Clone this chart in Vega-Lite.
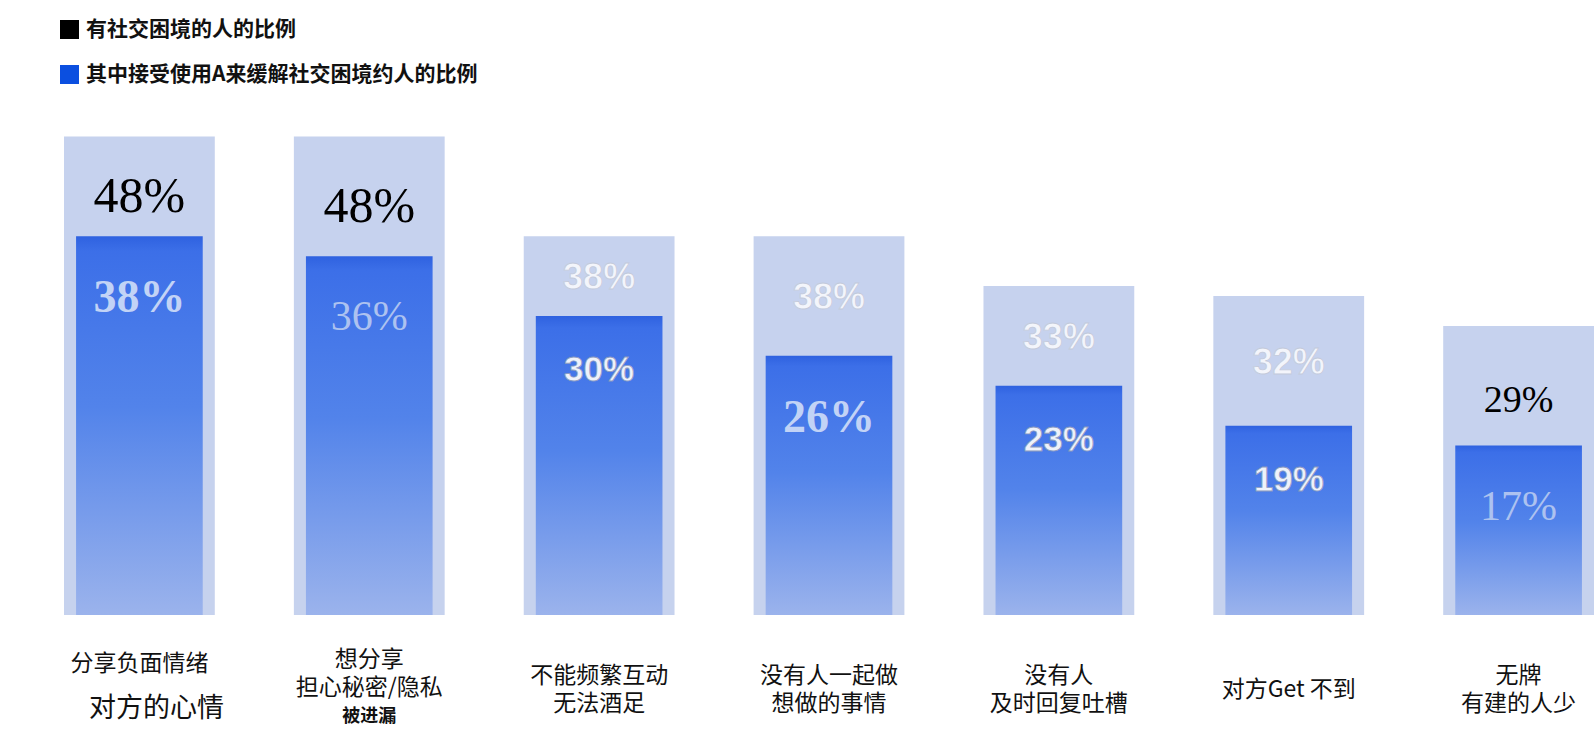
{
  "$schema": "https://vega.github.io/schema/vega-lite/v6.json",
  "autosize": {"type": "none"},
  "padding": {"left": 64, "top": 17, "right": 0, "bottom": 139},
  "width": 1530,
  "height": 598,
  "background": "#ffffff",
  "config": {"view": {"stroke": null}},
  "data": {
    "values": [
      {"cat": "分享负面情绪|对方的心情", "series": "有社交困境的人的比例", "value": 0.48},
      {"cat": "分享负面情绪|对方的心情", "series": "其中接受使用A来缓解社交困境约人的比例", "value": 0.38},
      {"cat": "想分享|担心秘密/隐私|被进漏", "series": "有社交困境的人的比例", "value": 0.48},
      {"cat": "想分享|担心秘密/隐私|被进漏", "series": "其中接受使用A来缓解社交困境约人的比例", "value": 0.36},
      {"cat": "不能频繁互动|无法酒足", "series": "有社交困境的人的比例", "value": 0.38},
      {"cat": "不能频繁互动|无法酒足", "series": "其中接受使用A来缓解社交困境约人的比例", "value": 0.30},
      {"cat": "没有人一起做|想做的事情", "series": "有社交困境的人的比例", "value": 0.38},
      {"cat": "没有人一起做|想做的事情", "series": "其中接受使用A来缓解社交困境约人的比例", "value": 0.26},
      {"cat": "没有人|及时回复吐槽", "series": "有社交困境的人的比例", "value": 0.33},
      {"cat": "没有人|及时回复吐槽", "series": "其中接受使用A来缓解社交困境约人的比例", "value": 0.23},
      {"cat": "对方Get 不到", "series": "有社交困境的人的比例", "value": 0.32},
      {"cat": "对方Get 不到", "series": "其中接受使用A来缓解社交困境约人的比例", "value": 0.19},
      {"cat": "无牌|有建的人少", "series": "有社交困境的人的比例", "value": 0.29},
      {"cat": "无牌|有建的人少", "series": "其中接受使用A来缓解社交困境约人的比例", "value": 0.17}
    ]
  },
  "encoding": {
    "x": {
      "field": "cat",
      "type": "nominal",
      "sort": null,
      "scale": {
        "domain": ["分享负面情绪|对方的心情", "想分享|担心秘密/隐私|被进漏", "不能频繁互动|无法酒足", "没有人一起做|想做的事情", "没有人|及时回复吐槽", "对方Get 不到", "无牌|有建的人少"],
        "paddingInner": 0.344,
        "paddingOuter": 0
      },
      "axis": {
        "title": null,
        "domain": false,
        "ticks": false,
        "tickSize": 0,
        "grid": false,
        "labelAngle": 0,
        "labelExpr": "datum.label == '分享负面情绪|对方的心情' ? ['分享负面情绪'] : datum.label == '想分享|担心秘密/隐私|被进漏' ? ['想分享', '担心秘密/隐私'] : split(datum.label, '|')",
        "labelFont": "Noto Sans CJK SC",
        "labelFontSize": 23,
        "labelColor": "#111111",
        "labelLineHeight": 28,
        "labelBaseline": "middle",
        "labelPadding": {
          "condition": [
            {"test": "datum.value == '分享负面情绪|对方的心情'", "value": 48},
            {"test": "datum.value == '想分享|担心秘密/隐私|被进漏'", "value": 44},
            {"test": "datum.value == '对方Get 不到'", "value": 74}
          ],
          "value": 60
        },
        "labelLimit": 400
      }
    }
  },
  "layer": [
    {
      "transform": [{"filter": {"field": "series", "equal": "有社交困境的人的比例"}}],
      "mark": {"type": "bar", "color": "#c6d2ee"},
      "encoding": {
        "y": {"field": "value", "type": "quantitative", "scale": {"domain": [0, 0.6], "nice": false, "zero": true}, "axis": null}
      }
    },
    {
      "transform": [{"filter": {"field": "series", "equal": "其中接受使用A来缓解社交困境约人的比例"}}],
      "mark": {
        "type": "bar",
        "width": {"band": 0.84},
        "color": {
          "gradient": "linear",
          "x1": 0, "y1": 0, "x2": 0, "y2": 1,
          "stops": [
            {"offset": 0, "color": "#2f62e0"},
            {"offset": 0.04, "color": "#3c6fe8"},
            {"offset": 0.45, "color": "#5283ea"},
            {"offset": 1, "color": "#9bb3ec"}
          ]
        }
      },
      "encoding": {
        "y": {"field": "value", "type": "quantitative"}
      }
    },
    {
      "mark": {"type": "point", "filled": true, "opacity": 0, "shape": "square"},
      "encoding": {
        "y": {"field": "value", "type": "quantitative"},
        "color": {
          "field": "series",
          "type": "nominal",
          "scale": {"domain": ["有社交困境的人的比例", "其中接受使用A来缓解社交困境约人的比例"], "range": ["#000000", "#0b4fe0"]},
          "legend": {
            "title": null,
            "orient": "none",
            "legendX": -5,
            "legendY": 2,
            "direction": "vertical",
            "padding": 0,
            "symbolType": "square",
            "symbolSize": 361,
            "symbolStrokeWidth": 0,
            "symbolOpacity": 1,
            "labelFont": "Noto Sans CJK SC",
            "labelFontSize": 21,
            "labelFontWeight": "bold",
            "labelColor": "#111111",
            "labelOffset": 6,
            "labelLimit": 700,
            "rowPadding": 23
          }
        }
      }
    },
    {
      "transform": [{"filter": {"field": "cat", "oneOf": ["分享负面情绪|对方的心情", "想分享|担心秘密/隐私|被进漏"]}}],
      "mark": {"type": "text", "font": "Liberation Serif", "fontSize": 50, "color": "#000000", "baseline": "middle", "dy": 11},
      "encoding": {
        "y": {"aggregate": "mean", "field": "value", "type": "quantitative"},
        "text": {"aggregate": "max", "field": "value", "type": "quantitative", "format": ".0%"}
      }
    },
    {
      "transform": [{"filter": {"field": "cat", "oneOf": ["无牌|有建的人少"]}}],
      "mark": {"type": "text", "font": "Liberation Serif", "fontSize": 38, "color": "#000000", "baseline": "middle", "dy": 15},
      "encoding": {
        "y": {"aggregate": "mean", "field": "value", "type": "quantitative"},
        "text": {"aggregate": "max", "field": "value", "type": "quantitative", "format": ".0%"}
      }
    },
    {
      "transform": [{"filter": {"field": "cat", "oneOf": ["不能频繁互动|无法酒足", "没有人一起做|想做的事情", "没有人|及时回复吐槽", "对方Get 不到"]}}],
      "mark": {"type": "text", "font": "Liberation Sans", "fontWeight": "bold", "fontSize": 36, "color": "#f3f5fb", "stroke": "#c3cadb", "strokeWidth": 0.8, "baseline": "middle", "dy": 2},
      "encoding": {
        "y": {"aggregate": "mean", "field": "value", "type": "quantitative"},
        "text": {"aggregate": "max", "field": "value", "type": "quantitative", "format": ".0%"}
      }
    },
    {
      "transform": [
        {"filter": {"field": "series", "equal": "其中接受使用A来缓解社交困境约人的比例"}},
        {"filter": {"field": "cat", "oneOf": ["分享负面情绪|对方的心情", "没有人一起做|想做的事情"]}}
      ],
      "mark": {"type": "text", "font": "Liberation Serif", "fontWeight": "bold", "fontSize": 46, "color": "#c2d3f6", "baseline": "middle", "dy": 62},
      "encoding": {
        "y": {"field": "value", "type": "quantitative"},
        "text": {"field": "value", "type": "quantitative", "format": ".0%"}
      }
    },
    {
      "transform": [
        {"filter": {"field": "series", "equal": "其中接受使用A来缓解社交困境约人的比例"}},
        {"filter": {"field": "cat", "oneOf": ["想分享|担心秘密/隐私|被进漏", "无牌|有建的人少"]}}
      ],
      "mark": {"type": "text", "font": "Liberation Serif", "fontSize": 42, "color": "#adc2f0", "baseline": "middle", "dy": 61},
      "encoding": {
        "y": {"field": "value", "type": "quantitative"},
        "text": {"field": "value", "type": "quantitative", "format": ".0%"}
      }
    },
    {
      "transform": [
        {"filter": {"field": "series", "equal": "其中接受使用A来缓解社交困境约人的比例"}},
        {"filter": {"field": "cat", "oneOf": ["不能频繁互动|无法酒足", "没有人|及时回复吐槽", "对方Get 不到"]}}
      ],
      "mark": {"type": "text", "font": "Liberation Sans", "fontWeight": "bold", "fontSize": 35, "color": "#eef2fb", "stroke": "#8d9cc0", "strokeWidth": 0.8, "baseline": "middle", "dy": 54},
      "encoding": {
        "y": {"field": "value", "type": "quantitative"},
        "text": {"field": "value", "type": "quantitative", "format": ".0%"}
      }
    },
    {
      "data": {"values": [{"cat": "分享负面情绪|对方的心情", "note": "对方的心情"}]},
      "mark": {"type": "text", "font": "Noto Sans CJK SC", "fontSize": 27, "color": "#111111", "baseline": "middle", "dx": 17, "dy": 94},
      "encoding": {
        "y": {"datum": 0, "type": "quantitative"},
        "text": {"field": "note", "type": "nominal"}
      }
    },
    {
      "data": {"values": [{"cat": "想分享|担心秘密/隐私|被进漏", "note": "被进漏"}]},
      "mark": {"type": "text", "font": "Noto Sans CJK SC", "fontSize": 18, "fontWeight": "bold", "color": "#111111", "baseline": "middle", "dy": 102},
      "encoding": {
        "y": {"datum": 0, "type": "quantitative"},
        "text": {"field": "note", "type": "nominal"}
      }
    }
  ]
}
